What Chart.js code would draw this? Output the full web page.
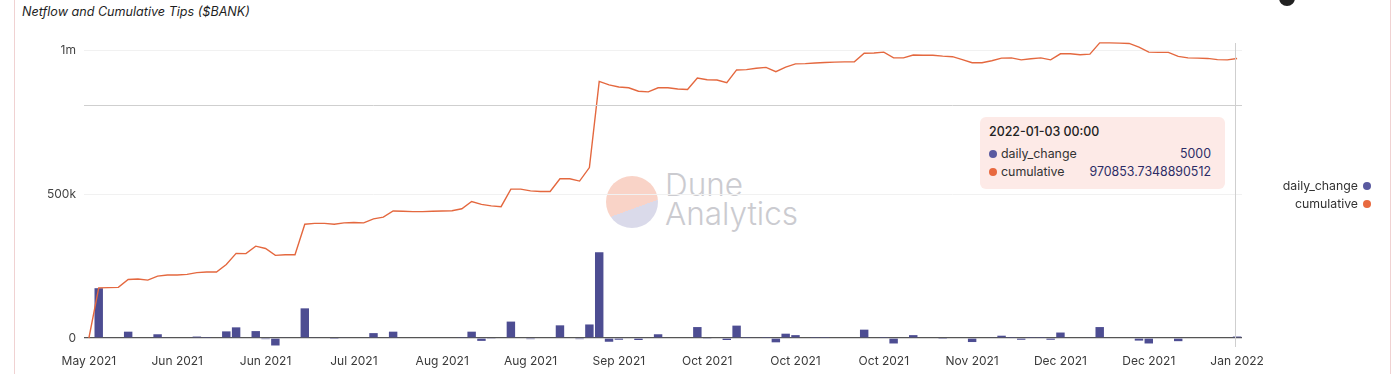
<!DOCTYPE html>
<html>
<head>
<meta charset="utf-8">
<script src="https://cdn.jsdelivr.net/npm/chart.js@4"></script>
<style>
    body { margin: 0; background: #fff; font-family: Inter, "Noto Sans", sans-serif; }
    #wrap { position: relative; width: 1400px; height: 374px; overflow: hidden; }
    #card { position: absolute; left: 14px; top: -2px; width: 1375px; height: 380px;
            border-left: 1px solid #f0d2d2; border-right: 1px solid #f0d2d2; }
    #titulo { position: absolute; left: 22px; top: 4px; font-size: 12.6px; font-style: italic; color: #1f1f1f; }
    #avatar { position: absolute; left: 1279px; top: -10px; width: 16px; height: 16px; border-radius: 50%; background: #222; }
    #grafico { position: absolute; left: 0; top: 0; }
    #legenda { position: absolute; right: 29px; top: 177px; font-size: 12.3px; color: #333; text-align: right; line-height: 18px; }
    #legenda .dot, #dica .dot { display: inline-block; width: 8px; height: 8px; border-radius: 50%; vertical-align: 0; }
    #legenda .dot { margin-left: 5px; }
    #dica { position: absolute; left: 980px; top: 117px; width: 245px; height: 72px; background: #fdeae7;
            border-radius: 6px; font-size: 12.4px; color: #333; box-sizing: border-box; padding: 7px 14px 0 9px; }
    #dica .tt { font-weight: 500; color: #222; margin-bottom: 6px; }
    #dica .row { display: flex; justify-content: space-between; line-height: 18px; }
    #dica .row .v { color: #2c2c66; }
    #dica .dot { margin-right: 4px; }
    #marca { position: absolute; left: 606px; top: 176px; pointer-events: none; }
    #marca .logo { position: absolute; left: 0; top: 0; width: 52px; height: 52px; border-radius: 50%;
                   background: linear-gradient(160deg, #f9d3c7 0%, #f9d3c7 60%, #dadaea 60%, #dadaea 100%); }
    #marca .txt { position: absolute; left: 59px; top: -6px; font-size: 31.5px; font-weight: 300; color: #cbcbd0; line-height: 29px; white-space: nowrap; }
</style>
</head>
<body>
<div id="wrap">
    <div id="card"></div>
    <div id="titulo">Netflow and Cumulative Tips ($BANK)</div>
    <div id="avatar"></div>
    <div id="marca"><div class="logo"></div><div class="txt">Dune<br>Analytics</div></div>
    <canvas id="grafico" width="1400" height="374"></canvas>
    <div id="dica"></div>
    <div id="legenda"></div>
</div>
<script>
// Cores do gráfico
const CORES = {
    barra: '#4d4d92',
    linha: '#e4683f',
    pontoBarra: '#5a5aa0',
    pontoLinha: '#e8693f'
};

// Datas (categorias do eixo x)
const datas = [
    '2021-05-20', '2021-05-21', '2021-05-23', '2021-05-24', '2021-05-25', '2021-05-26', '2021-05-27', '2021-05-29', '2021-05-30',
    '2021-06-01', '2021-06-03', '2021-06-05', '2021-06-07', '2021-06-09', '2021-06-11', '2021-06-13', '2021-06-15', '2021-06-17',
    '2021-06-20', '2021-06-22', '2021-06-24', '2021-06-26', '2021-06-28', '2021-06-30', '2021-07-02', '2021-07-04', '2021-07-07',
    '2021-07-10', '2021-07-12', '2021-07-14', '2021-07-17', '2021-07-19', '2021-07-21', '2021-07-24', '2021-07-26', '2021-07-29',
    '2021-08-01', '2021-08-03', '2021-08-05', '2021-08-07', '2021-08-09', '2021-08-11', '2021-08-13', '2021-08-15', '2021-08-17',
    '2021-08-20', '2021-08-22', '2021-08-24', '2021-08-25', '2021-08-27', '2021-08-29', '2021-08-30', '2021-08-31', '2021-09-02',
    '2021-09-05', '2021-09-08', '2021-09-11', '2021-09-14', '2021-09-17', '2021-09-20', '2021-09-23', '2021-09-26', '2021-09-28',
    '2021-10-01', '2021-10-02', '2021-10-03', '2021-10-05', '2021-10-06', '2021-10-08', '2021-10-09', '2021-10-11', '2021-10-13',
    '2021-10-15', '2021-10-16', '2021-10-18', '2021-10-19', '2021-10-21', '2021-10-22', '2021-10-24', '2021-10-25', '2021-10-27',
    '2021-10-29', '2021-10-31', '2021-11-02', '2021-11-04', '2021-11-06', '2021-11-08', '2021-11-10', '2021-11-12', '2021-11-13',
    '2021-11-15', '2021-11-17', '2021-11-19', '2021-11-20', '2021-11-22', '2021-11-24', '2021-11-26', '2021-11-27', '2021-11-29',
    '2021-12-01', '2021-12-03', '2021-12-05', '2021-12-06', '2021-12-08', '2021-12-10', '2021-12-12', '2021-12-14', '2021-12-16',
    '2021-12-18', '2021-12-20', '2021-12-21', '2021-12-23', '2021-12-25', '2021-12-27', '2021-12-29', '2021-12-30', '2021-12-31',
    '2022-01-03'
];

// Variação diária (barras)
const dailyChange = [
    0, 173000, 2000, 0, 22000, 0, 0, 13000, 2000,
    0, 0, 5000, 1000, 0, 23000, 37000, 0, 24000,
    -4000, -26000, 2000, 0, 103000, 2000, 0, -1000, 2000,
    0, 0, 17000, 0, 22000, 0, 0, 0, 0,
    0, 0, 3000, 22000, -10000, -3000, 0, 57000, 0,
    -4000, 0, 0, 44000, 0, -4000, 47000, 298000, -13000,
    -6000, 0, -7000, 0, 13000, 0, 0, 0, 38000,
    -3000, 0, -7000, 43000, 1000, 2000, 1000, -15000, 15000,
    10000, 0, 1000, 1000, 0, 0, 0, 29000, 0,
    1000, -19000, 0, 10000, 0, 0, -1000, 0, 0,
    -14000, 0, 2000, 8000, 1000, -6000, 1000, 1000, -6000,
    19000, 0, 0, 2000, 38000, 0, 0, 0, -9000,
    -19000, 0, 0, -11000, 0, 0, 0, 0, 0,
    5000
];

// Acumulado (linha)
const cumulative = [
    0, 174000, 175000, 176000, 203000, 205000, 201000, 215000, 219000,
    219000, 221000, 227000, 229000, 229000, 255000, 294000, 293000, 319000,
    311000, 287000, 289000, 289000, 395000, 398000, 398000, 395000, 400000,
    401000, 400000, 414000, 420000, 441000, 440000, 439000, 439000, 440000,
    441000, 442000, 449000, 474000, 464000, 459000, 456000, 517000, 517000,
    511000, 509000, 509000, 553000, 553000, 545000, 592000, 891000, 879000,
    872000, 869000, 857000, 855000, 869000, 869000, 865000, 863000, 903000,
    897000, 896000, 887000, 931000, 932000, 937000, 940000, 925000, 941000,
    952000, 953000, 955000, 957000, 958000, 959000, 959000, 989000, 990000,
    993000, 973000, 973000, 983000, 982000, 982000, 979000, 977000, 967000,
    956000, 956000, 963000, 972000, 973000, 966000, 970000, 973000, 966000,
    987000, 987000, 984000, 986000, 1025000, 1025000, 1024000, 1023000, 1010000,
    993000, 992000, 992000, 978000, 973000, 972000, 971000, 967000, 966000,
    970853.7348890512
];

// Marcas do eixo y e posição do cursor (linha horizontal)
const yTicks = [0, 500000, 1000000];
const cursorY = 809000;
const meses = ['Jan', 'Feb', 'Mar', 'Apr', 'May', 'Jun', 'Jul', 'Aug', 'Sep', 'Oct', 'Nov', 'Dec'];
const passoRotulo = 9;

function formatarMes(d) {
    const partes = d.split('-');
    return meses[parseInt(partes[1], 10) - 1] + ' ' + partes[0];
}

function formatarY(v) {
    if (v >= 1000000) return (v / 1000000) + 'm';
    if (v >= 1000) return (v / 1000) + 'k';
    return String(v);
}

// Plugin para as linhas do cursor (cruz)
const cursorPlugin = {
    id: 'cursor',
    afterDatasetsDraw(chart) {
        const { ctx, chartArea, scales } = chart;
        const x = scales.x.getPixelForValue(datas.length - 1);
        const y = scales.y.getPixelForValue(cursorY);
        ctx.save();
        ctx.strokeStyle = '#cfcfcf';
        ctx.lineWidth = 1;
        ctx.beginPath();
        ctx.moveTo(chartArea.left, Math.round(y) + 0.5);
        ctx.lineTo(chartArea.right, Math.round(y) + 0.5);
        ctx.moveTo(Math.round(x) - 1.5, chartArea.top + 3);
        ctx.lineTo(Math.round(x) - 1.5, chartArea.bottom);
        ctx.stroke();
        ctx.restore();
    }
};

const ctx = document.getElementById('grafico').getContext('2d');
new Chart(ctx, {
    type: 'bar',
    data: {
        labels: datas,
        datasets: [
            {
                type: 'line',
                label: 'cumulative',
                data: cumulative,
                borderColor: CORES.linha,
                borderWidth: 1.4,
                pointRadius: 0,
                tension: 0,
                order: 0
            },
            {
                label: 'daily_change',
                data: dailyChange,
                backgroundColor: CORES.barra,
                barPercentage: 0.86,
                categoryPercentage: 1,
                order: 1
            }
        ]
    },
    options: {
        responsive: false,
        animation: false,
        layout: {
            padding: { left: 0, right: 158, top: 40, bottom: 0 }
        },
        plugins: {
            legend: { display: false },
            tooltip: { enabled: false }
        },
        scales: {
            x: {
                offset: true,
                grid: { display: false, drawTicks: false },
                border: { display: false },
                afterFit: (axis) => { axis.height = 27; },
                ticks: {
                    autoSkip: false,
                    maxRotation: 0,
                    padding: 7,
                    color: '#3a3a3a',
                    font: { family: 'Inter', size: 12 },
                    callback: (v, i) => (i % passoRotulo === 0 ? formatarMes(datas[i]) : '')
                }
            },
            y: {
                min: -31250,
                max: 1035000,
                afterFit: (axis) => { axis.width = 84; },
                afterBuildTicks: (axis) => { axis.ticks = yTicks.map(v => ({ value: v })); },
                grid: {
                    drawTicks: false,
                    color: (c) => (c.tick && c.tick.value === 0 ? '#555' : '#f1f1f1'),
                    lineWidth: (c) => (c.tick && c.tick.value === 0 ? 1.3 : 1)
                },
                border: { display: false },
                ticks: {
                    padding: 8,
                    color: '#444',
                    font: { family: 'Inter', size: 12 },
                    callback: (v) => formatarY(v)
                }
            }
        }
    },
    plugins: [cursorPlugin]
});

// Legenda à direita
const legenda = document.getElementById('legenda');
legenda.innerHTML =
    '<div>daily_change<span class="dot" style="background:' + CORES.pontoBarra + '"></span></div>' +
    '<div>cumulative<span class="dot" style="background:' + CORES.pontoLinha + '"></span></div>';

// Caixa de dica fixa no último ponto
const ultimo = datas.length - 1;
document.getElementById('dica').innerHTML =
    '<div class="tt">' + datas[ultimo] + ' 00:00</div>' +
    '<div class="row"><span><span class="dot" style="background:' + CORES.pontoBarra + '"></span>daily_change</span><span class="v">' + dailyChange[ultimo] + '</span></div>' +
    '<div class="row"><span><span class="dot" style="background:' + CORES.pontoLinha + '"></span>cumulative</span><span class="v">' + cumulative[ultimo] + '</span></div>';
</script>
</body>
</html>
